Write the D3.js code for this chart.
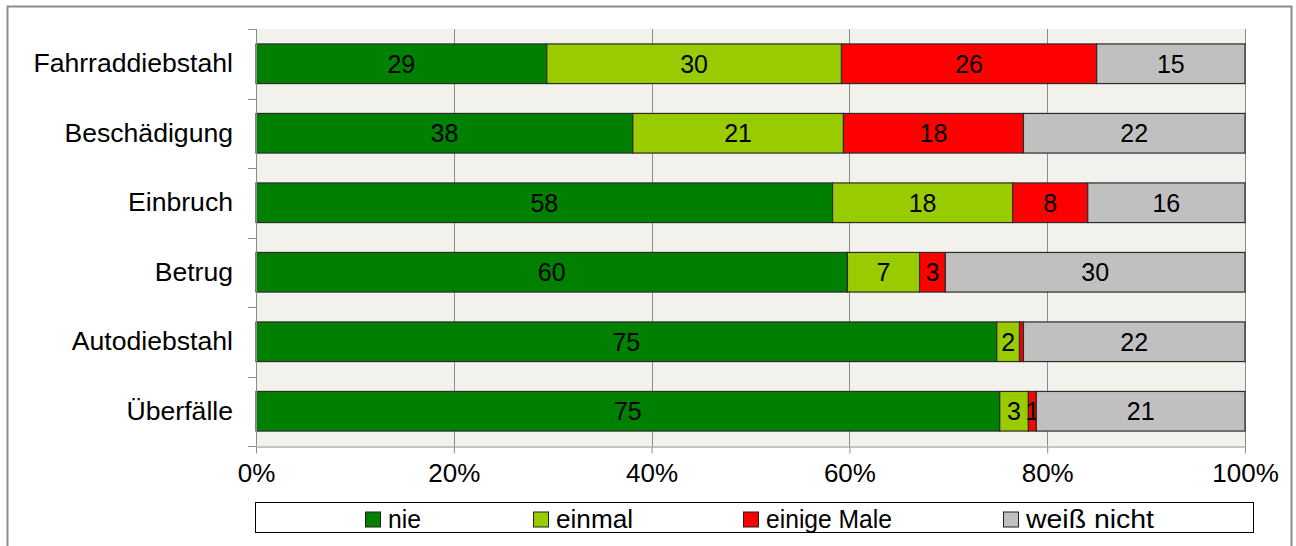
<!DOCTYPE html>
<html>
<head>
<meta charset="utf-8">
<script src="https://cdn.jsdelivr.net/npm/d3@7"></script>
<style>
  body { margin: 0; background: #fff; }
  svg { display: block; font-family: "Liberation Sans", Arial, sans-serif; }
</style>
</head>
<body>
<div id="main"></div>
<script>
var width = 1296,
    height = 546;

// values in percent
var categories = ["Fahrraddiebstahl", "Beschädigung", "Einbruch", "Betrug", "Autodiebstahl", "Überfälle"];
var seriesNames = ["nie", "einmal", "einige Male", "weiß nicht"];
var nie        = [29.4, 38.1, 58.3, 59.8, 74.9, 75.2];
var einmal     = [29.8, 21.3, 18.2,  7.3,  2.3,  2.9];
var einigeMale = [25.8, 18.2,  7.6,  2.6,  0.4,  0.8];
var weissNicht = [15.0, 22.4, 15.9, 30.3, 22.4, 21.1];
var xTicks = [0, 20, 40, 60, 80, 100];

var colors = ["#008000", "#99cc00", "#ff0000", "#c0c0c0"];

var rows = categories.map(function(c, i) {
    return { cat: c, "nie": nie[i], "einmal": einmal[i], "einige Male": einigeMale[i], "weiß nicht": weissNicht[i] };
});

var stack = d3.stack()
    .keys(seriesNames)
    .offset(d3.stackOffsetExpand);
var layers = stack(rows);

var svg = d3.select("div#main").append("svg")
    .attr("width", width)
    .attr("height", height);

// outer frame
svg.append("rect")
    .attr("x", 7.5).attr("y", 6.5)
    .attr("width", 1284).attr("height", 545)
    .attr("fill", "#fff")
    .attr("stroke", "#8c8c8c")
    .attr("stroke-width", 2);

var plot = { left: 256, right: 1245, top: 29, bottom: 446 };

var x = d3.scaleLinear().domain([0, 1]).range([plot.left, plot.right]);
var y = d3.scaleBand().domain(categories)
    .range([plot.top, plot.bottom])
    .paddingInner(0.43)
    .paddingOuter(0.215);

// plot background
svg.append("rect")
    .attr("x", plot.left).attr("y", plot.top)
    .attr("width", plot.right - plot.left).attr("height", plot.bottom - plot.top)
    .attr("fill", "#f2f1eb");

// vertical gridlines
svg.append("g").selectAll("line")
    .data(xTicks.slice(1))
    .enter().append("line")
    .attr("x1", function(d) { return Math.round(x(d / 100)) + 0.5; })
    .attr("x2", function(d) { return Math.round(x(d / 100)) + 0.5; })
    .attr("y1", plot.top).attr("y2", plot.bottom)
    .attr("stroke", "#8c8c8c").attr("stroke-width", 1);

// bars
var layer = svg.append("g").selectAll("g.layer")
    .data(layers)
    .enter().append("g")
    .attr("class", "layer")
    .attr("fill", function(d, i) { return colors[i]; });

layer.selectAll("rect")
    .data(function(d) { return d; })
    .enter().append("rect")
    .attr("x", function(d) { return x(d[0]); })
    .attr("y", function(d) { return y(d.data.cat); })
    .attr("width", function(d) { return x(d[1]) - x(d[0]); })
    .attr("height", y.bandwidth())
    .attr("stroke", "#2b2b2b")
    .attr("stroke-width", 1.2);

// segment labels (hide the ones that round to 0)
layer.selectAll("text")
    .data(function(d) { return d.map(function(s) { s.key = d.key; return s; }); })
    .enter().filter(function(d) { return Math.round(d.data[d.key]) >= 1; })
    .append("text")
    .attr("x", function(d) { return (x(d[0]) + x(d[1])) / 2; })
    .attr("y", function(d) { return y(d.data.cat) + y.bandwidth() / 2; })
    .attr("dy", "0.36em")
    .attr("text-anchor", "middle")
    .attr("fill", "#000")
    .attr("font-size", 25)
    .text(function(d) { return Math.round(d.data[d.key]); });

// y axis
var yAxis = d3.axisLeft(y).tickSize(0).tickPadding(23);
var gy = svg.append("g")
    .attr("transform", "translate(" + plot.left + ",0)")
    .call(yAxis);
gy.select(".domain").remove();
gy.selectAll("text")
    .attr("font-size", 26.6)
    .attr("font-family", "'Liberation Sans', Arial, sans-serif")
    .attr("fill", "#000");

svg.append("line")
    .attr("x1", plot.left + 0.5).attr("x2", plot.left + 0.5)
    .attr("y1", plot.top).attr("y2", plot.bottom)
    .attr("stroke", "#8c8c8c");

// category boundary ticks
var bounds = categories.map(function(c) { return y(c) - y.step() * y.paddingInner() / 2; });
bounds.push(plot.bottom);
svg.append("g").selectAll("line")
    .data(bounds)
    .enter().append("line")
    .attr("x1", plot.left - 8).attr("x2", plot.left)
    .attr("y1", function(d) { return Math.round(d) + 0.5; })
    .attr("y2", function(d) { return Math.round(d) + 0.5; })
    .attr("stroke", "#8c8c8c");

// x axis
var xAxis = d3.axisBottom(x)
    .tickValues(xTicks.map(function(t) { return t / 100; }))
    .tickFormat(d3.format(".0%"))
    .tickSizeInner(7).tickSizeOuter(0).tickPadding(10);
var gx = svg.append("g")
    .attr("transform", "translate(0," + (plot.bottom + 0.5) + ")")
    .call(xAxis);
gx.select(".domain").attr("stroke", "#8c8c8c");
gx.selectAll(".tick line").attr("stroke", "#8c8c8c");
gx.selectAll("text")
    .attr("font-size", 26)
    .attr("font-family", "'Liberation Sans', Arial, sans-serif")
    .attr("fill", "#000");

// legend
svg.append("rect")
    .attr("x", 255.5).attr("y", 502.5)
    .attr("width", 998).attr("height", 30)
    .attr("fill", "#fff")
    .attr("stroke", "#000");

var legendX = [365, 533, 743, 1003];
var legendW = [33, 77, 126, 128];
var item = svg.append("g").selectAll("g")
    .data(seriesNames)
    .enter().append("g")
    .attr("transform", function(d, i) { return "translate(" + legendX[i] + ",519.5)"; });

item.append("rect")
    .attr("x", 0.5).attr("y", -7.5)
    .attr("width", 15).attr("height", 15)
    .attr("fill", function(d, i) { return colors[i]; })
    .attr("stroke", "#222");

item.append("text")
    .attr("x", 23)
    .attr("y", 8)
    .attr("font-size", 25.5)
    .attr("fill", "#000")
    .attr("textLength", function(d, i) { return legendW[i]; })
    .attr("lengthAdjust", "spacingAndGlyphs")
    .text(function(d) { return d; });
</script>
</body>
</html>
